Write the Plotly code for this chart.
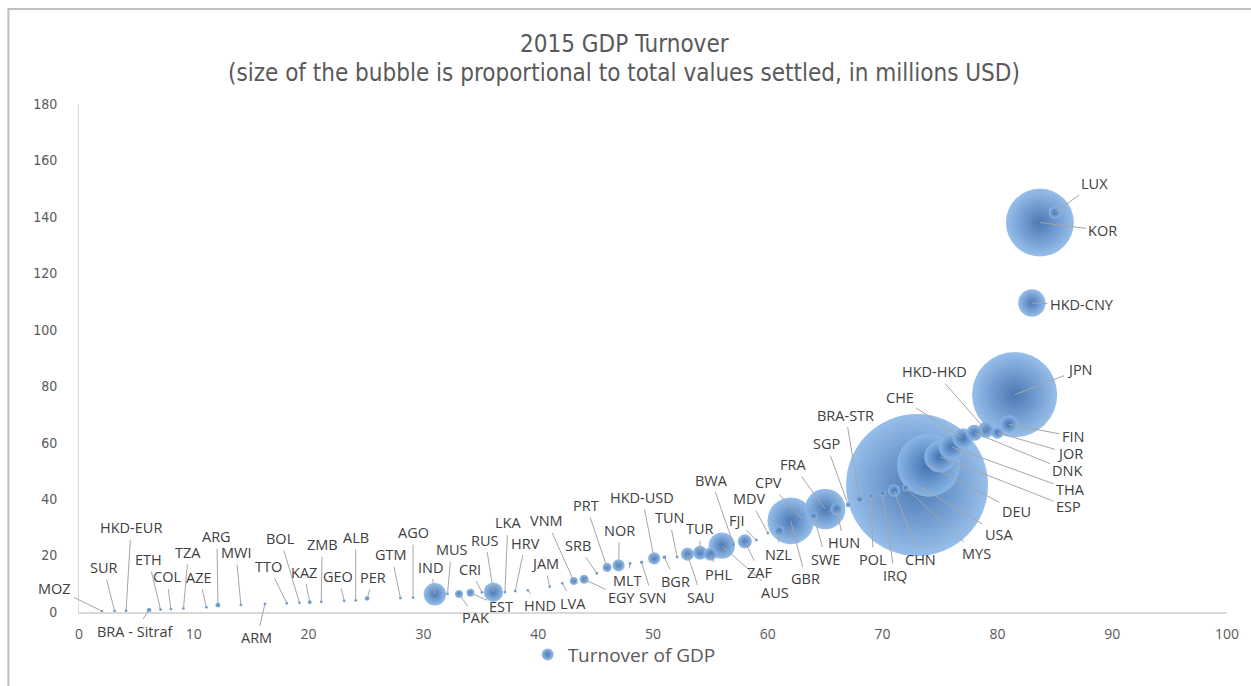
import pandas as pd
import plotly.graph_objects as go

# ---------------- data ----------------
codes = ["MOZ", "SUR", "HKD-EUR", "BRA - Sitraf", "ETH", "COL", "TZA", "AZE", "ARG", "MWI",
         "ARM", "TTO", "BOL", "KAZ", "ZMB", "GEO", "ALB", "PER", "GTM", "AGO",
         "IND", "MUS", "PAK", "EST", "CRI", "RUS", "LKA", "HRV", "HND", "JAM",
         "LVA", "VNM", "EGY", "SRB", "PRT", "NOR", "MLT", "SVN", "HKD-USD", "BGR",
         "TUN", "SAU", "TUR", "PHL", "AUS", "BWA", "ZAF", "FJI", "MDV", "NZL",
         "GBR", "CPV", "SWE", "FRA", "HUN", "SGP", "BRA-STR", "POL", "IRQ", "CHN",
         "MYS", "USA", "DEU", "ESP", "THA", "CHE", "DNK", "HKD-HKD", "JOR", "FIN",
         "JPN", "HKD-CNY", "KOR", "LUX"]

x_vals = [2.0, 3.1, 4.1, 6.1, 7.1, 8.0, 9.1, 11.1, 12.1, 14.1,
          16.2, 18.1, 19.2, 20.1, 21.1, 23.1, 24.1, 25.1, 28.0, 29.1,
          31.0, 32.1, 33.1, 34.1, 35.1, 36.1, 37.1, 38.0, 39.1, 41.0,
          42.1, 43.1, 44.0, 45.1, 46.0, 47.0, 48.0, 49.0, 50.1, 51.0,
          52.1, 53.0, 54.1, 55.0, 56.0, 57.0, 58.0, 59.0, 60.0, 61.0,
          62.0, 63.0, 64.0, 65.0, 66.0, 67.0, 68.0, 69.0, 70.0, 71.0,
          72.0, 73.0, 74.0, 75.0, 76.0, 77.0, 78.0, 79.0, 80.0, 81.0,
          81.5, 83.0, 83.7, 85.0]

turnover = [0.3, 0.4, 0.5, 0.7, 0.9, 1.1, 1.3, 1.7, 2.5, 2.6,
            2.9, 3.1, 3.3, 3.5, 3.6, 4.0, 4.2, 4.8, 5.0, 5.1,
            6.3, 6.5, 6.4, 6.8, 7.0, 7.0, 7.1, 7.4, 7.7, 9.0,
            10.2, 11.0, 11.6, 13.7, 15.8, 16.5, 17.2, 17.6, 19.0, 19.4,
            19.5, 20.5, 21.0, 20.5, 23.5, 24.0, 25.0, 25.5, 28.0, 28.8,
            32.3, 33.0, 34.0, 36.5, 36.5, 38.0, 40.0, 41.0, 42.0, 43.0,
            44.0, 45.0, 52.0, 55.0, 58.5, 61.5, 63.5, 64.5, 63.5, 66.5,
            77.0, 109.5, 138.0, 141.5]

settled = [20000, 15000, 30000, 900000, 60000, 100000, 80000, 120000, 1000000, 50000,
           60000, 150000, 200000, 700000, 100000, 150000, 80000, 900000, 250000, 300000,
           20000000, 200000, 2600000, 2600000, 300000, 15000000, 200000, 300000, 150000, 200000,
           300000, 2600000, 3300000, 300000, 3300000, 5900000, 400000, 500000, 5900000, 600000,
           400000, 6900000, 8000000, 6900000, 27600000, 300000, 8000000, 400000, 200000, 4100000,
           86400000, 200000, 2000000, 65300000, 5900000, 1000000, 2000000, 1000000, 1500000, 6000000,
           2000000, 800000000, 157000000, 39000000, 25500000, 16300000, 10400000, 10400000, 5900000, 13200000,
           288000000, 29800000, 183000000, 5900000]

x_ticks = [0, 10, 20, 30, 40, 50, 60, 70, 80, 90, 100]
y_ticks = [0, 20, 40, 60, 80, 100, 120, 140, 160, 180]

# label offsets (pixels) for the leader-lined data labels
lab_dx = [-47, -11, 5, -14, -12, -4, 5, -7, -1, -5,
          -8, -18, -19, -6, 1, -6, 0, 6, -9, 0,
          -4, 4, 17, 31, -12, -8, 3, 10, 12, -5,
          11, -27, 38, -19, -21, 1, -3, 11, -12, 11,
          -8, 14, 0, 8, 53, -22, 15, -20, -18, -1,
          15, -34, 12, -32, 7, -22, -14, 2, 12, 26,
          71, 82, 88, 128, 119, -63, 93, -51, 73, 64,
          65, 50, 63, 40]
lab_dy = [-23, -43, -83, 21, -50, -32, -56, -30, -68, -52,
          34, -37, -64, -30, -57, -24, -63, -21, -43, -65,
          -27, -44, 24, 14, -23, -52, -69, -48, 15, -23,
          20, -60, 18, -28, -62, -35, 17, 35, -61, 24,
          -39, 43, -24, 20, 47, -64, 31, -20, -34, 24,
          58, -36, 43, -44, 34, -61, -84, 63, 82, 69,
          66, 49, 46, 50, 43, -41, 38, -58, 21, 12,
          -25, 2, 8, -29]

df = pd.DataFrame({"code": codes, "x": x_vals, "y": turnover, "v": settled})
df_draw = df.sort_values("v", ascending=False)

# ---------------- figure ----------------
W, H = 1251, 686
L, R, T, B = 79, 18, 104, 69
pw, ph = W - L - R, H - T - B

max_d = 142
sizeref = 2.0 * max(settled) / (max_d ** 2)

fig = go.Figure()
fig.add_trace(go.Scatter(
    x=df_draw["x"], y=df_draw["y"], mode="markers", name="Turnover of GDP",
    text=df_draw["code"],
    marker=dict(size=df_draw["v"], sizemode="area", sizeref=sizeref, sizemin=1.5,
                color="#8db9e8", opacity=0.92,
                gradient=dict(type="radial", color="#3c6dae"),
                line=dict(width=0)),
    showlegend=True,
))

ann = []
for c, xv, yv, dx, dy in zip(codes, x_vals, turnover, lab_dx, lab_dy):
    ann.append(dict(x=xv, y=yv, xref="x", yref="y", text=c, showarrow=True,
                    ax=dx, ay=dy, arrowhead=0, arrowwidth=1, arrowcolor="#a6a6a6",
                    standoff=0, startstandoff=1,
                    font=dict(family="Open Sans, sans-serif", size=14.5, color="#404040")))

def px_to_paper_x(p):
    return (p - L) / pw

def px_to_paper_y(p):
    return (H - B - p) / ph

title_font = dict(family="Liberation Sans Narrow, DejaVu Sans Condensed, sans-serif",
                  size=24, color="#595959")
ann.append(dict(text="2015 GDP Turnover", xref="paper", yref="paper",
                x=px_to_paper_x(627), y=px_to_paper_y(43), showarrow=False,
                xanchor="center", yanchor="middle", font=title_font))
ann.append(dict(text="(size of the bubble is proportional to total values settled, in millions USD)",
                xref="paper", yref="paper",
                x=px_to_paper_x(627), y=px_to_paper_y(73), showarrow=False,
                xanchor="center", yanchor="middle", font=title_font))

fig.update_layout(
    width=W, height=H,
    margin=dict(l=L, r=R, t=T, b=B, pad=0),
    paper_bgcolor="white", plot_bgcolor="white",
    annotations=ann,
    showlegend=True,
    legend=dict(orientation="h", x=px_to_paper_x(530), y=px_to_paper_y(660),
                xanchor="left", yanchor="middle",
                font=dict(family="Open Sans, sans-serif", size=19, color="#595959"),
                bgcolor="rgba(0,0,0,0)", itemsizing="constant"),
    xaxis=dict(range=[0, 100], tickvals=x_ticks, showgrid=False, zeroline=False,
               showline=True, linecolor="#d9d9d9", linewidth=1.5, ticks="",
               ticklabelstandoff=8,
               tickfont=dict(family="Open Sans, sans-serif", size=14, color="#595959")),
    yaxis=dict(range=[0, 180], tickvals=y_ticks, showgrid=False, zeroline=False,
               showline=True, linecolor="#d9d9d9", linewidth=1, ticks="",
               ticklabelstandoff=18,
               tickfont=dict(family="Liberation Sans Narrow, DejaVu Sans Condensed, sans-serif",
                             size=14, color="#595959")),
    shapes=[dict(type="rect", xref="paper", yref="paper",
                 x0=px_to_paper_x(8), x1=px_to_paper_x(1300),
                 y0=px_to_paper_y(760), y1=px_to_paper_y(8),
                 line=dict(color="#bfbfbf", width=2), fillcolor="rgba(0,0,0,0)", layer="below")],
)

fig.write_html("out.html")
